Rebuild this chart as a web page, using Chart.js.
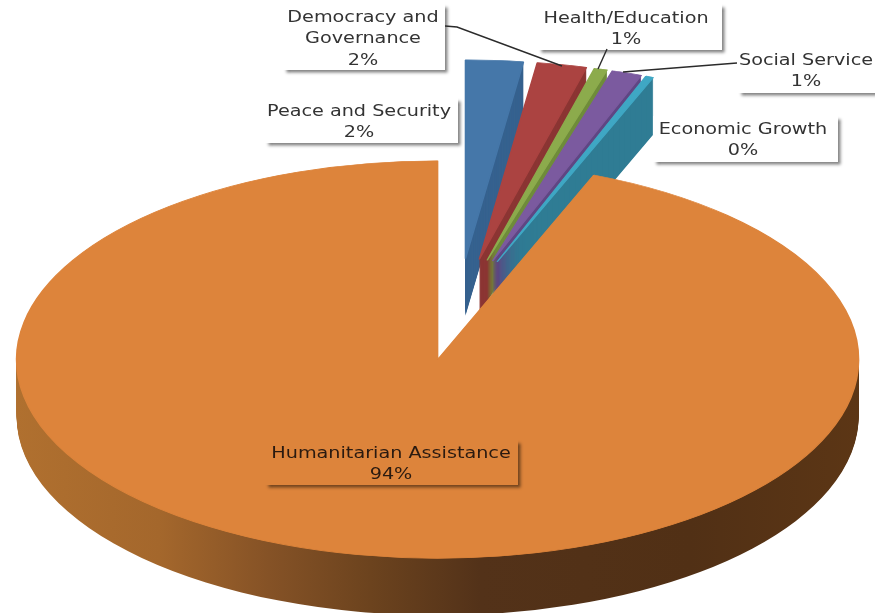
<!DOCTYPE html>
<html>
<head>
<meta charset="utf-8">
<title>Assistance by sector</title>
<script src="https://cdn.jsdelivr.net/npm/chart.js@4"></script>
<style>
  html, body { margin: 0; padding: 0; background: #fff; overflow: hidden; }
  canvas { display: block; }
</style>
</head>
<body>
<canvas id="pie" width="875" height="613"></canvas>
<script>
// ── Data ──

const categories = ['Peace and Security', 'Democracy and Governance', 'Health/Education',
  'Social Service', 'Economic Growth', 'Humanitarian Assistance'];
const shares = [2.2, 1.9, 0.5, 1.15, 0.3, 93.95];
const labelLines = [['Peace and Security'], ['Democracy and', 'Governance'], ['Health/Education'],
  ['Social Service'], ['Economic Growth'], ['Humanitarian Assistance']];

// ── Styles ──

const faceColors = ['#4577a9', '#ab4341', '#8cab4c', '#7b5a9f', '#3fa7c4', '#dd843b'];
const wallColors = ['#36628f', '#8b3533', '#6f8c3a', '#5f4683', '#2f7c94', null];
const orangeWallStops = [[0, '#b0702f'], [0.17, '#a4672c'], [0.3, '#855226'], [0.42, '#6c431e'],
  [0.55, '#533219'], [0.8, '#513015'], [1, '#5c3615']];

const RADIUS = 421;       // px before flattening
const FLATTEN = 0.472;    // vertical squash of the disc
const DEPTH = 57;         // wall height in px
const EXPLODE = 108;      // distance every slice is pulled from the centre
const CENTER_X = 458;
const CENTER_Y = 309.5;
const TEXT_STRETCH = 1.2; // labels run wide
const LINE_HEIGHT = 21.3;

// label boxes: x, y, w, h, text centre, first line y
const labelBoxes = [
  { x: 265, y: 98, w: 193, h: 45, cx: 359, ty: 112 },
  { x: 283, y: 4, w: 162, h: 66, cx: 363, ty: 18 },
  { x: 538, y: 4, w: 184, h: 46, cx: 626, ty: 19 },
  { x: 738, y: 47, w: 150, h: 46, cx: 806, ty: 61 },
  { x: 653, y: 116, w: 185, h: 46, cx: 743, ty: 130 },
  { x: 265, y: 440, w: 253, h: 45, cx: 391, ty: 454, fill: '#dd843b', color: '#2a1a10' },
];
const leaders = [
  [[445, 26], [457, 27], [562, 66]],
  [[607, 49], [598, 69]],
  [[737, 63], [623, 72]],
];

// ── 3D pie plugin ──

function placeSlice(ctx, arc, drop) {
  const mid = (arc.startAngle + arc.endAngle) / 2;
  ctx.translate(CENTER_X, CENTER_Y + drop);
  ctx.scale(1, FLATTEN);
  ctx.translate(Math.cos(mid) * EXPLODE - arc.x, Math.sin(mid) * EXPLODE - arc.y);
}

function paintWall(ctx, arc, color) {
  const wall = Object.create(arc);
  wall.options = { ...arc.options, backgroundColor: color, borderWidth: 0 };
  for (let d = DEPTH; d > 0; d--) {
    ctx.save();
    placeSlice(ctx, arc, d);
    wall.draw(ctx);
    ctx.restore();
  }
}

const pie3d = {
  id: 'pie3d',
  beforeDatasetsDraw(chart) {
    const ctx = chart.ctx;
    chart.getDatasetMeta(0).data.forEach((arc, i) => {
      let color = wallColors[i];
      if (!color) {
        color = ctx.createLinearGradient(arc.x - RADIUS, 0, arc.x + RADIUS, 0);
        orangeWallStops.forEach(s => color.addColorStop(s[0], s[1]));
      }
      paintWall(ctx, arc, color);
      ctx.save();
      placeSlice(ctx, arc, 0);
      arc.draw(ctx);
      ctx.restore();
    });
    return false;
  },
  afterDraw(chart) {
    const ctx = chart.ctx;
    ctx.save();
    labelBoxes.forEach(box => {
      ctx.save();
      ctx.shadowColor = 'rgba(0,0,0,0.5)';
      ctx.shadowBlur = 3;
      ctx.shadowOffsetX = 2.5;
      ctx.shadowOffsetY = 2.5;
      ctx.fillStyle = box.fill || '#fff';
      ctx.fillRect(box.x, box.y, box.w, box.h);
      ctx.restore();
    });

    ctx.strokeStyle = '#2b2b2b';
    ctx.lineWidth = 1.4;
    leaders.forEach(pts => {
      ctx.beginPath();
      pts.forEach((p, i) => i ? ctx.lineTo(p[0], p[1]) : ctx.moveTo(p[0], p[1]));
      ctx.stroke();
    });

    ctx.font = '16px "DejaVu Sans"';
    ctx.textAlign = 'center';
    ctx.textBaseline = 'middle';
    labelBoxes.forEach((box, i) => {
      ctx.fillStyle = box.color || '#333';
      const lines = [...labelLines[i], `${Math.round(shares[i])}%`];
      lines.forEach((line, n) => {
        ctx.save();
        ctx.translate(box.cx, box.ty + n * LINE_HEIGHT);
        ctx.scale(TEXT_STRETCH, 1);
        ctx.fillText(line, 0, 0);
        ctx.restore();
      });
    });
    ctx.restore();
  },
};

new Chart(document.getElementById('pie'), {
  type: 'pie',
  data: {
    labels: categories,
    // the thin same-colour border hides wall pixels along each face's edge
    datasets: [{ data: shares, backgroundColor: faceColors, borderColor: faceColors, borderWidth: 1.5 }],
  },
  options: {
    responsive: false,
    animation: false,
    radius: RADIUS,
    events: [],
    plugins: { legend: { display: false }, tooltip: { enabled: false } },
  },
  plugins: [pie3d],
});
</script>
</body>
</html>
